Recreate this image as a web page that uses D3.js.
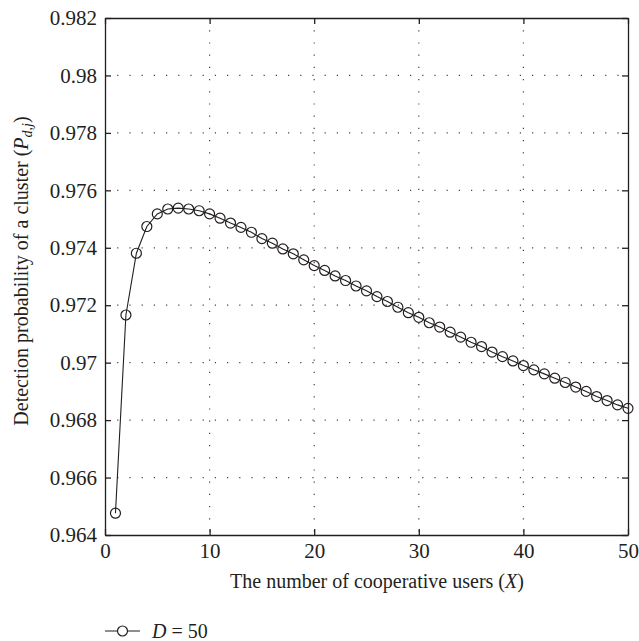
<!DOCTYPE html>
<html>
	<head>
		<meta charset="utf-8">
		<title>Detection probability</title>
		<script src="https://cdn.jsdelivr.net/npm/d3@7"></script>
		<style>
			body { margin: 0; background: #fff; }
		</style>
	</head>
	<body>
		<div id="root"></div>
		<script>
			// number of cooperative users
			const users = d3.range(1, 51);
			// detection probability of a cluster, D = 50
			const probD50 = [
				0.96476, 0.97166, 0.97381, 0.97474, 0.97518, 0.97535, 0.97538, 0.97535, 0.97529, 0.97518,
				0.97503, 0.97486, 0.97471, 0.97454, 0.97432, 0.97416, 0.97396, 0.97379, 0.97358, 0.97338,
				0.97321, 0.97302, 0.97286, 0.97267, 0.97250, 0.97230, 0.97213, 0.97193, 0.97174, 0.97158,
				0.97139, 0.97124, 0.97106, 0.97089, 0.97071, 0.97056, 0.97037, 0.97021, 0.97006, 0.96990,
				0.96975, 0.96961, 0.96946, 0.96931, 0.96915, 0.96900, 0.96882, 0.96868, 0.96853, 0.96841
			];
			const xTicks = [0, 10, 20, 30, 40, 50];
			const yTicks = [0.964, 0.966, 0.968, 0.97, 0.972, 0.974, 0.976, 0.978, 0.98, 0.982];
			const yTickLabels = ["0.964", "0.966", "0.968", "0.97", "0.972", "0.974", "0.976", "0.978", "0.98", "0.982"];

			const width = 639, height = 641;
			const mLeft = 105, mRight = 628, mTop = 18, mBottom = 535;
			const ink = "#231f20";
			const serif = "'Liberation Serif', 'Times New Roman', serif";

			const xScale = d3.scaleLinear().domain([0, 50]).range([mLeft, mRight]);
			const yScale = d3.scaleLinear().domain([0.964, 0.982]).range([mBottom, mTop]);

			const svg = d3.select("#root").append("svg")
				.attr("width", width)
				.attr("height", height)
				.style("font-family", serif);

			//dotted grid
			svg.append("g").selectAll("line")
				.data(xTicks.slice(1, -1)).enter().append("line")
				.attr("x1", d => xScale(d)).attr("x2", d => xScale(d))
				.attr("y1", mTop).attr("y2", mBottom)
				.attr("stroke", "#444").attr("stroke-width", 1.2)
				.attr("stroke-dasharray", "1.2,11");
			svg.append("g").selectAll("line")
				.data(yTicks.slice(1, -1)).enter().append("line")
				.attr("y1", d => yScale(d)).attr("y2", d => yScale(d))
				.attr("x1", mLeft).attr("x2", mRight)
				.attr("stroke", "#444").attr("stroke-width", 1.2)
				.attr("stroke-dasharray", "1.2,11");

			//axes with inward ticks, on all four sides
			const tickLen = 6;
			const xAxis = d3.axisBottom(xScale).tickValues(xTicks).tickSize(-tickLen).tickPadding(8).tickSizeOuter(0);
			svg.append("g").attr("transform", "translate(0," + mBottom + ")").call(xAxis);

			const yAxis = d3.axisLeft(yScale).tickValues(yTicks).tickSize(-tickLen).tickPadding(8).tickSizeOuter(0)
				.tickFormat((d, i) => yTickLabels[i]);
			svg.append("g").attr("transform", "translate(" + mLeft + ",0)").call(yAxis);

			svg.selectAll(".tick text")
				.style("font-family", serif)
				.style("font-size", "21px")
				.attr("fill", ink);

			svg.append("g").attr("transform", "translate(0," + mTop + ")")
				.call(d3.axisTop(xScale).tickValues(xTicks).tickSize(-tickLen).tickFormat("").tickSizeOuter(0));
			svg.append("g").attr("transform", "translate(" + mRight + ",0)")
				.call(d3.axisRight(yScale).tickValues(yTicks).tickSize(-tickLen).tickFormat("").tickSizeOuter(0));

			svg.selectAll(".domain, .tick line").attr("stroke", ink).attr("stroke-width", 1.3);

			//series line + open circles
			const pts = users.map((u, i) => [u, probD50[i]]);
			svg.append("path")
				.datum(pts)
				.attr("fill", "none")
				.attr("stroke", ink)
				.attr("stroke-width", 1.1)
				.attr("d", d3.line().x(d => xScale(d[0])).y(d => yScale(d[1])));
			svg.append("g").selectAll("circle")
				.data(pts).enter().append("circle")
				.attr("cx", d => xScale(d[0]))
				.attr("cy", d => yScale(d[1]))
				.attr("r", 5)
				.attr("fill", "none")
				.attr("stroke", ink)
				.attr("stroke-width", 1.2);

			//X Axis Label
			const xl = svg.append("text")
				.attr("x", 377)
				.attr("y", 588)
				.attr("text-anchor", "middle")
				.style("font-size", "20px")
				.attr("fill", ink);
			xl.append("tspan").text("The number of cooperative users (");
			xl.append("tspan").attr("font-style", "italic").text("X");
			xl.append("tspan").text(")");

			//Y Axis Label
			const yl = svg.append("text")
				.attr("transform", "translate(28,271) rotate(-90)")
				.attr("text-anchor", "middle")
				.style("font-size", "20px")
				.attr("fill", ink);
			yl.append("tspan").text("Detection probability of a cluster (");
			yl.append("tspan").attr("font-style", "italic").text("P");
			yl.append("tspan").attr("font-style", "italic").style("font-size", "14px").attr("dy", 4).text("d,j");
			yl.append("tspan").attr("dy", -4).text(")");

			//legend
			const lg = svg.append("g").attr("transform", "translate(0,631)");
			lg.append("line").attr("x1", 105).attr("x2", 140).attr("y1", 0).attr("y2", 0)
				.attr("stroke", ink).attr("stroke-width", 1.2);
			lg.append("circle").attr("cx", 122.5).attr("cy", 0).attr("r", 5)
				.attr("fill", "#fff").attr("stroke", ink).attr("stroke-width", 1.2);
			const lt = lg.append("text").attr("x", 152).attr("y", 7).style("font-size", "20px").attr("fill", ink);
			lt.append("tspan").attr("font-style", "italic").text("D");
			lt.append("tspan").text(" = 50");
		</script>
	</body>
</html>
